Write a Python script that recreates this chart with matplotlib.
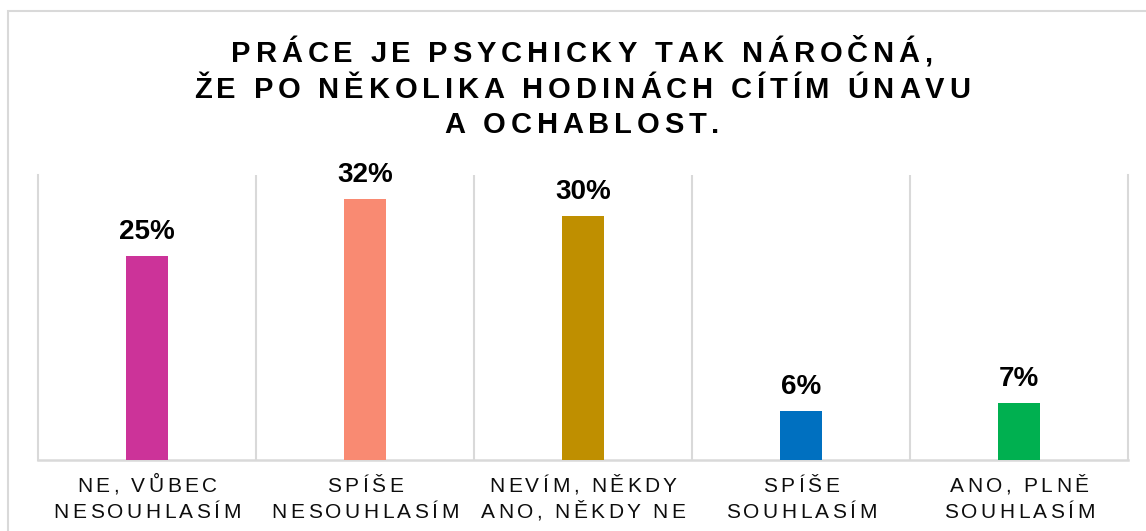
import matplotlib
matplotlib.use('Agg')
import matplotlib.pyplot as plt
import numpy as np
from matplotlib.font_manager import FontProperties
from matplotlib.transforms import offset_copy, blended_transform_factory
from matplotlib.patches import Rectangle

plt.rcParams['font.family'] = ['Liberation Sans', 'DejaVu Sans']

# data
categories = [['NE, VŮBEC', 'NESOUHLASÍM'],
              ['SPÍŠE', 'NESOUHLASÍM'],
              ['NEVÍM, NĚKDY', 'ANO, NĚKDY NE'],
              ['SPÍŠE', 'SOUHLASÍM'],
              ['ANO, PLNĚ', 'SOUHLASÍM']]
values = [25, 32, 30, 6, 7]
colors = ['#CC3399', '#F98A72', '#BF8F00', '#0070C0', '#00B050']
title_lines = ['PRÁCE JE PSYCHICKY TAK NÁROČNÁ,',
               'ŽE PO NĚKOLIKA HODINÁCH CÍTÍM ÚNAVU',
               'A OCHABLOST.']

DPI = 100
W, H = 1146, 531
fig = plt.figure(figsize=(W / DPI, H / DPI), dpi=DPI)
renderer = fig.canvas.get_renderer()

# light frame around the chart (cut off at right/bottom like the source)
fig.add_artist(Rectangle((8 / W, -0.1), 1.2, 1.1 - 11 / H, transform=fig.transFigure,
                         fill=False, edgecolor='#D9D9D9', lw=1.5))

ax = fig.add_axes([38 / W, 1 - 460 / H, 1090 / W, 285 / H])
x = np.arange(len(values))
ax.bar(x, values, width=0.19, color=colors, zorder=3)
ax.set_xlim(-0.5, len(values) - 0.5)
ax.set_ylim(0, 35)
ax.set_yticks([])
ax.set_xticks(x)
ax.set_xticklabels([])
ax.tick_params(length=0)
ax.set_xticks(np.arange(1, len(values)) - 0.5, minor=True)
ax.tick_params(which='minor', length=0)
ax.grid(axis='x', which='minor', color='#D9D9D9', lw=1.5)
ax.spines['top'].set_visible(False)
for s in ['left', 'right']:
    ax.spines[s].set_color('#D9D9D9')
    ax.spines[s].set_linewidth(1.5)
ax.spines['bottom'].set_color('#D9D9D9')
ax.spines['bottom'].set_linewidth(1.8)

for xi, v in zip(x, values):
    ax.annotate(f'{v}%', (xi, v), xytext=(0, 17), textcoords='offset pixels',
                ha='center', va='baseline', fontsize=20, fontweight='bold')


def char_adv(c, prop):
    # advance width of one char in pixels, measured between two H's
    w1 = renderer.get_text_width_height_descent('H' + c + 'H', prop, ismath=False)[0]
    w0 = renderer.get_text_width_height_descent('HH', prop, ismath=False)[0]
    return w1 - w0


def spaced_text(trans, x0, y0, s, size, weight, spacing, color='black'):
    # matplotlib has no letter spacing, so place letters one by one
    prop = FontProperties(family='Liberation Sans', size=size, weight=weight)
    adv = [char_adv(c, prop) for c in s]
    total = sum(adv) + spacing * (len(s) - 1)
    pos = -total / 2
    for c, a in zip(s, adv):
        if c != ' ':
            t = offset_copy(trans, fig=fig, x=pos + a / 2, y=0, units='dots')
            fig.text(x0, y0, c, transform=t, ha='center', va='baseline',
                     fontproperties=prop, color=color)
        pos += a + spacing


# title
for i, line in enumerate(title_lines):
    spaced_text(fig.transFigure, 582 / W, 1 - (62 + 35.5 * i) / H, line, 21, 'bold', 4.8)

# category labels
btrans = blended_transform_factory(ax.transData, fig.transFigure)
for xi, lines in zip(x, categories):
    for j, line in enumerate(lines):
        spaced_text(btrans, xi, 1 - (492 + 26 * j) / H, line, 15, 'normal', 3.4,
                    color='#0D0D0D')

plt.savefig('out.png', dpi=DPI)
